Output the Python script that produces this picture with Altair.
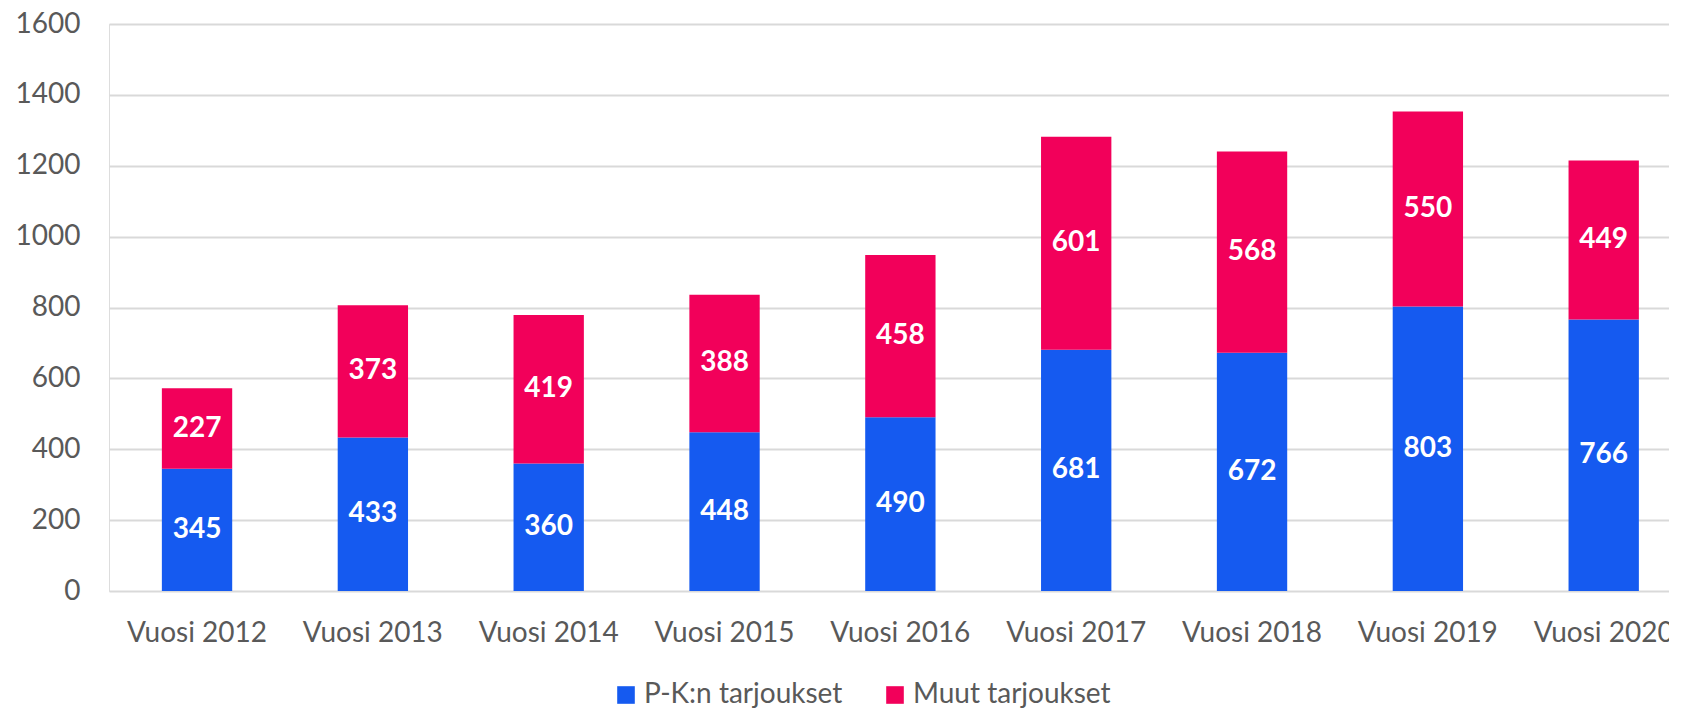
import altair as alt
import pandas as pd

years = ["Vuosi 2012", "Vuosi 2013", "Vuosi 2014", "Vuosi 2015", "Vuosi 2016",
         "Vuosi 2017", "Vuosi 2018", "Vuosi 2019", "Vuosi 2020"]
pk_values = [345, 433, 360, 448, 490, 681, 672, 803, 766]
muut_values = [227, 373, 419, 388, 458, 601, 568, 550, 449]
series = ["P-K:n tarjoukset", "Muut tarjoukset"]
colors = ["#155AF0", "#F2005A"]
y_ticks = [0, 200, 400, 600, 800, 1000, 1200, 1400, 1600]

rows = []
for y, a, b in zip(years, pk_values, muut_values):
    rows.append({"year": y, "series": series[0], "value": a, "order": 0})
    rows.append({"year": y, "series": series[1], "value": b, "order": 1})
df = pd.DataFrame(rows)

FONT = "Lato"

x = alt.X("year:N", sort=years, title=None,
          scale=alt.Scale(paddingInner=0.6, paddingOuter=0.236, align=0.637),
          axis=alt.Axis(labelAngle=0, ticks=False, domain=False, grid=False,
                        labelFont=FONT, labelFontSize=28, labelColor="#595959",
                        labelPadding=28, labelOverlap=False))

base = alt.Chart(df).transform_stack(
    stack="value", groupby=["year"], as_=["v0", "v1"],
    sort=[alt.SortField("order", order="ascending")]
).transform_calculate(mid="(datum.v0 + datum.v1) / 2")

bars = base.mark_bar().encode(
    x=x,
    y=alt.Y("v0:Q", title=None,
            scale=alt.Scale(domain=[0, 1600], nice=False),
            axis=alt.Axis(values=y_ticks, format="d", ticks=False, domain=False,
                          gridColor="#D9D9D9", gridWidth=2,
                          labelFont=FONT, labelFontSize=28, labelColor="#595959",
                          labelPadding=29, minExtent=101, maxExtent=101)),
    y2="v1:Q",
    color=alt.Color("series:N", sort=series,
                    scale=alt.Scale(domain=series, range=colors),
                    legend=alt.Legend(title=None, orient="none", direction="horizontal",
                                      legendX=503, legendY=657,
                                      symbolType="square", symbolSize=310,
                                      symbolStrokeWidth=0, symbolOpacity=1,
                                      labelFont=FONT, labelFontSize=28,
                                      labelColor="#595959", labelOffset=4,
                                      columnPadding=38, labelLimit=400)),
)

labels = base.mark_text(color="white", fontWeight="bold", font=FONT,
                        fontSize=28, baseline="middle", align="center").encode(
    x=alt.X("year:N", sort=years),
    y=alt.Y("mid:Q"),
    text=alt.Text("value:Q"),
)

chart = alt.layer(bars, labels).properties(
    width=1560, height=567,
    autosize=alt.AutoSizeParams(type="none"),
    padding={"left": 101, "top": 16, "right": 0, "bottom": 118},
).configure_view(stroke=None).configure(background="white")

chart.save("out.html", embed_options={"renderer": "svg", "actions": False})
